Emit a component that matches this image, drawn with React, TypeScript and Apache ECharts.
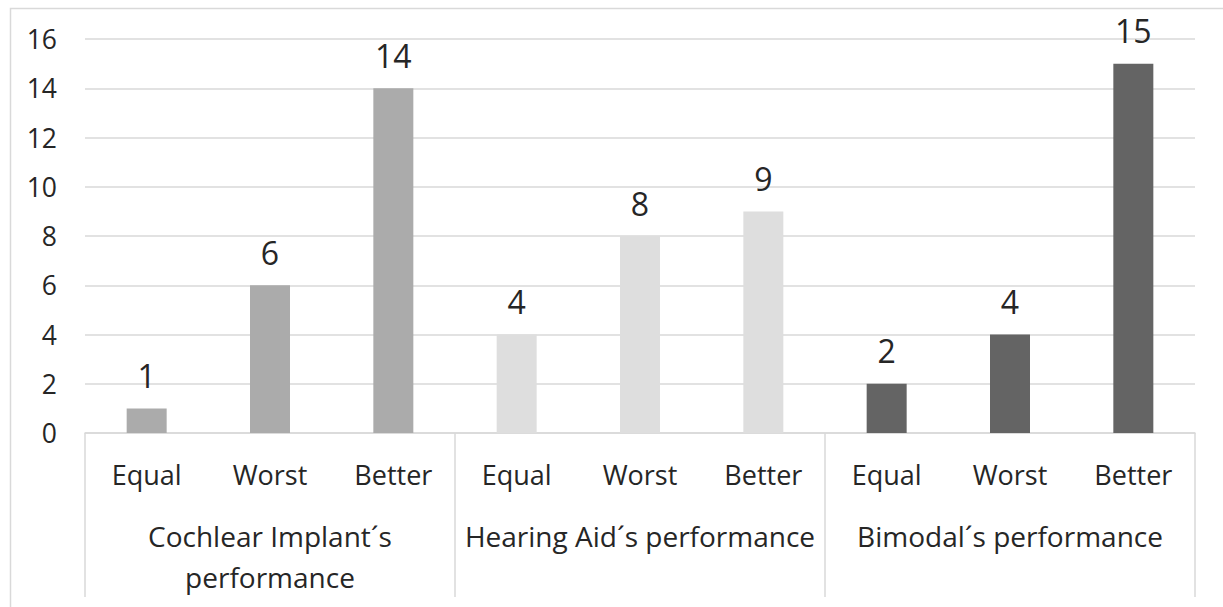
import React, { useEffect, useRef } from "react";
import * as echarts from "echarts";

const categories = ["Equal", "Worst", "Better", "Equal", "Worst", "Better", "Equal", "Worst", "Better"];
const groups = ["Cochlear Implant´s\nperformance", "Hearing Aid´s performance", "Bimodal´s performance"];
const values = [1, 6, 14, 4, 8, 9, 2, 4, 15];
const groupColors = ["#ababab", "#dedede", "#646464"];
const yTicks = [0, 2, 4, 6, 8, 10, 12, 14, 16];

const FONT = "'Open Sans', sans-serif";
const TEXT = "#262626";

export default function App() {
  const ref = useRef<HTMLDivElement>(null);
  useEffect(() => {
    if (!ref.current) return;
    const chart = echarts.init(ref.current, undefined, { renderer: "svg" });
    chart.setOption({
      animation: false,
      backgroundColor: "#ffffff",
      textStyle: { fontFamily: FONT },
      grid: { left: 85, right: 28, top: 39, bottom: 174, containLabel: false },
      xAxis: [
        {
          type: "category",
          data: categories,
          position: "bottom",
          axisLine: { show: true, lineStyle: { color: "#d9d9d9", width: 1.5 } },
          axisTick: { show: false },
          axisLabel: { interval: 0, margin: 28, fontSize: 27, color: TEXT, fontFamily: FONT },
        },
        {
          type: "category",
          data: groups,
          position: "bottom",
          axisLine: { show: false },
          axisTick: {
            show: true,
            inside: false,
            length: 164,
            alignWithLabel: false,
            interval: 0,
            lineStyle: { color: "#d9d9d9", width: 1.5 },
          },
          axisLabel: { interval: 0, margin: 82, fontSize: 28, color: TEXT, fontFamily: FONT, lineHeight: 41 },
        },
      ],
      yAxis: {
        type: "value",
        min: yTicks[0],
        max: yTicks[yTicks.length - 1],
        interval: 2,
        axisLine: { show: false },
        axisTick: { show: false },
        splitLine: { lineStyle: { color: "#d9d9d9", width: 1.5 } },
        axisLabel: { fontSize: 26.5, color: TEXT, margin: 28, fontFamily: FONT },
      },
      graphic: [
        {
          type: "rect",
          shape: { x: 10.5, y: 8.5, width: 1300, height: 700 },
          style: { fill: "none", stroke: "#d9d9d9", lineWidth: 1.5 },
          silent: true,
        },
      ],
      series: [
        {
          type: "bar",
          xAxisIndex: 0,
          barWidth: 40,
          data: values.map((v, i) => ({
            value: v,
            itemStyle: { color: groupColors[Math.floor(i / 3)] },
          })),
          label: {
            show: true,
            position: "top",
            distance: 17,
            fontSize: 32,
            color: TEXT,
            fontFamily: FONT,
          },
        },
      ],
    });
    return () => chart.dispose();
  }, []);
  return (
    <div
      ref={ref}
      style={{ position: "fixed", left: 0, top: 0, width: 1223, height: 607, background: "#fff" }}
    />
  );
}
